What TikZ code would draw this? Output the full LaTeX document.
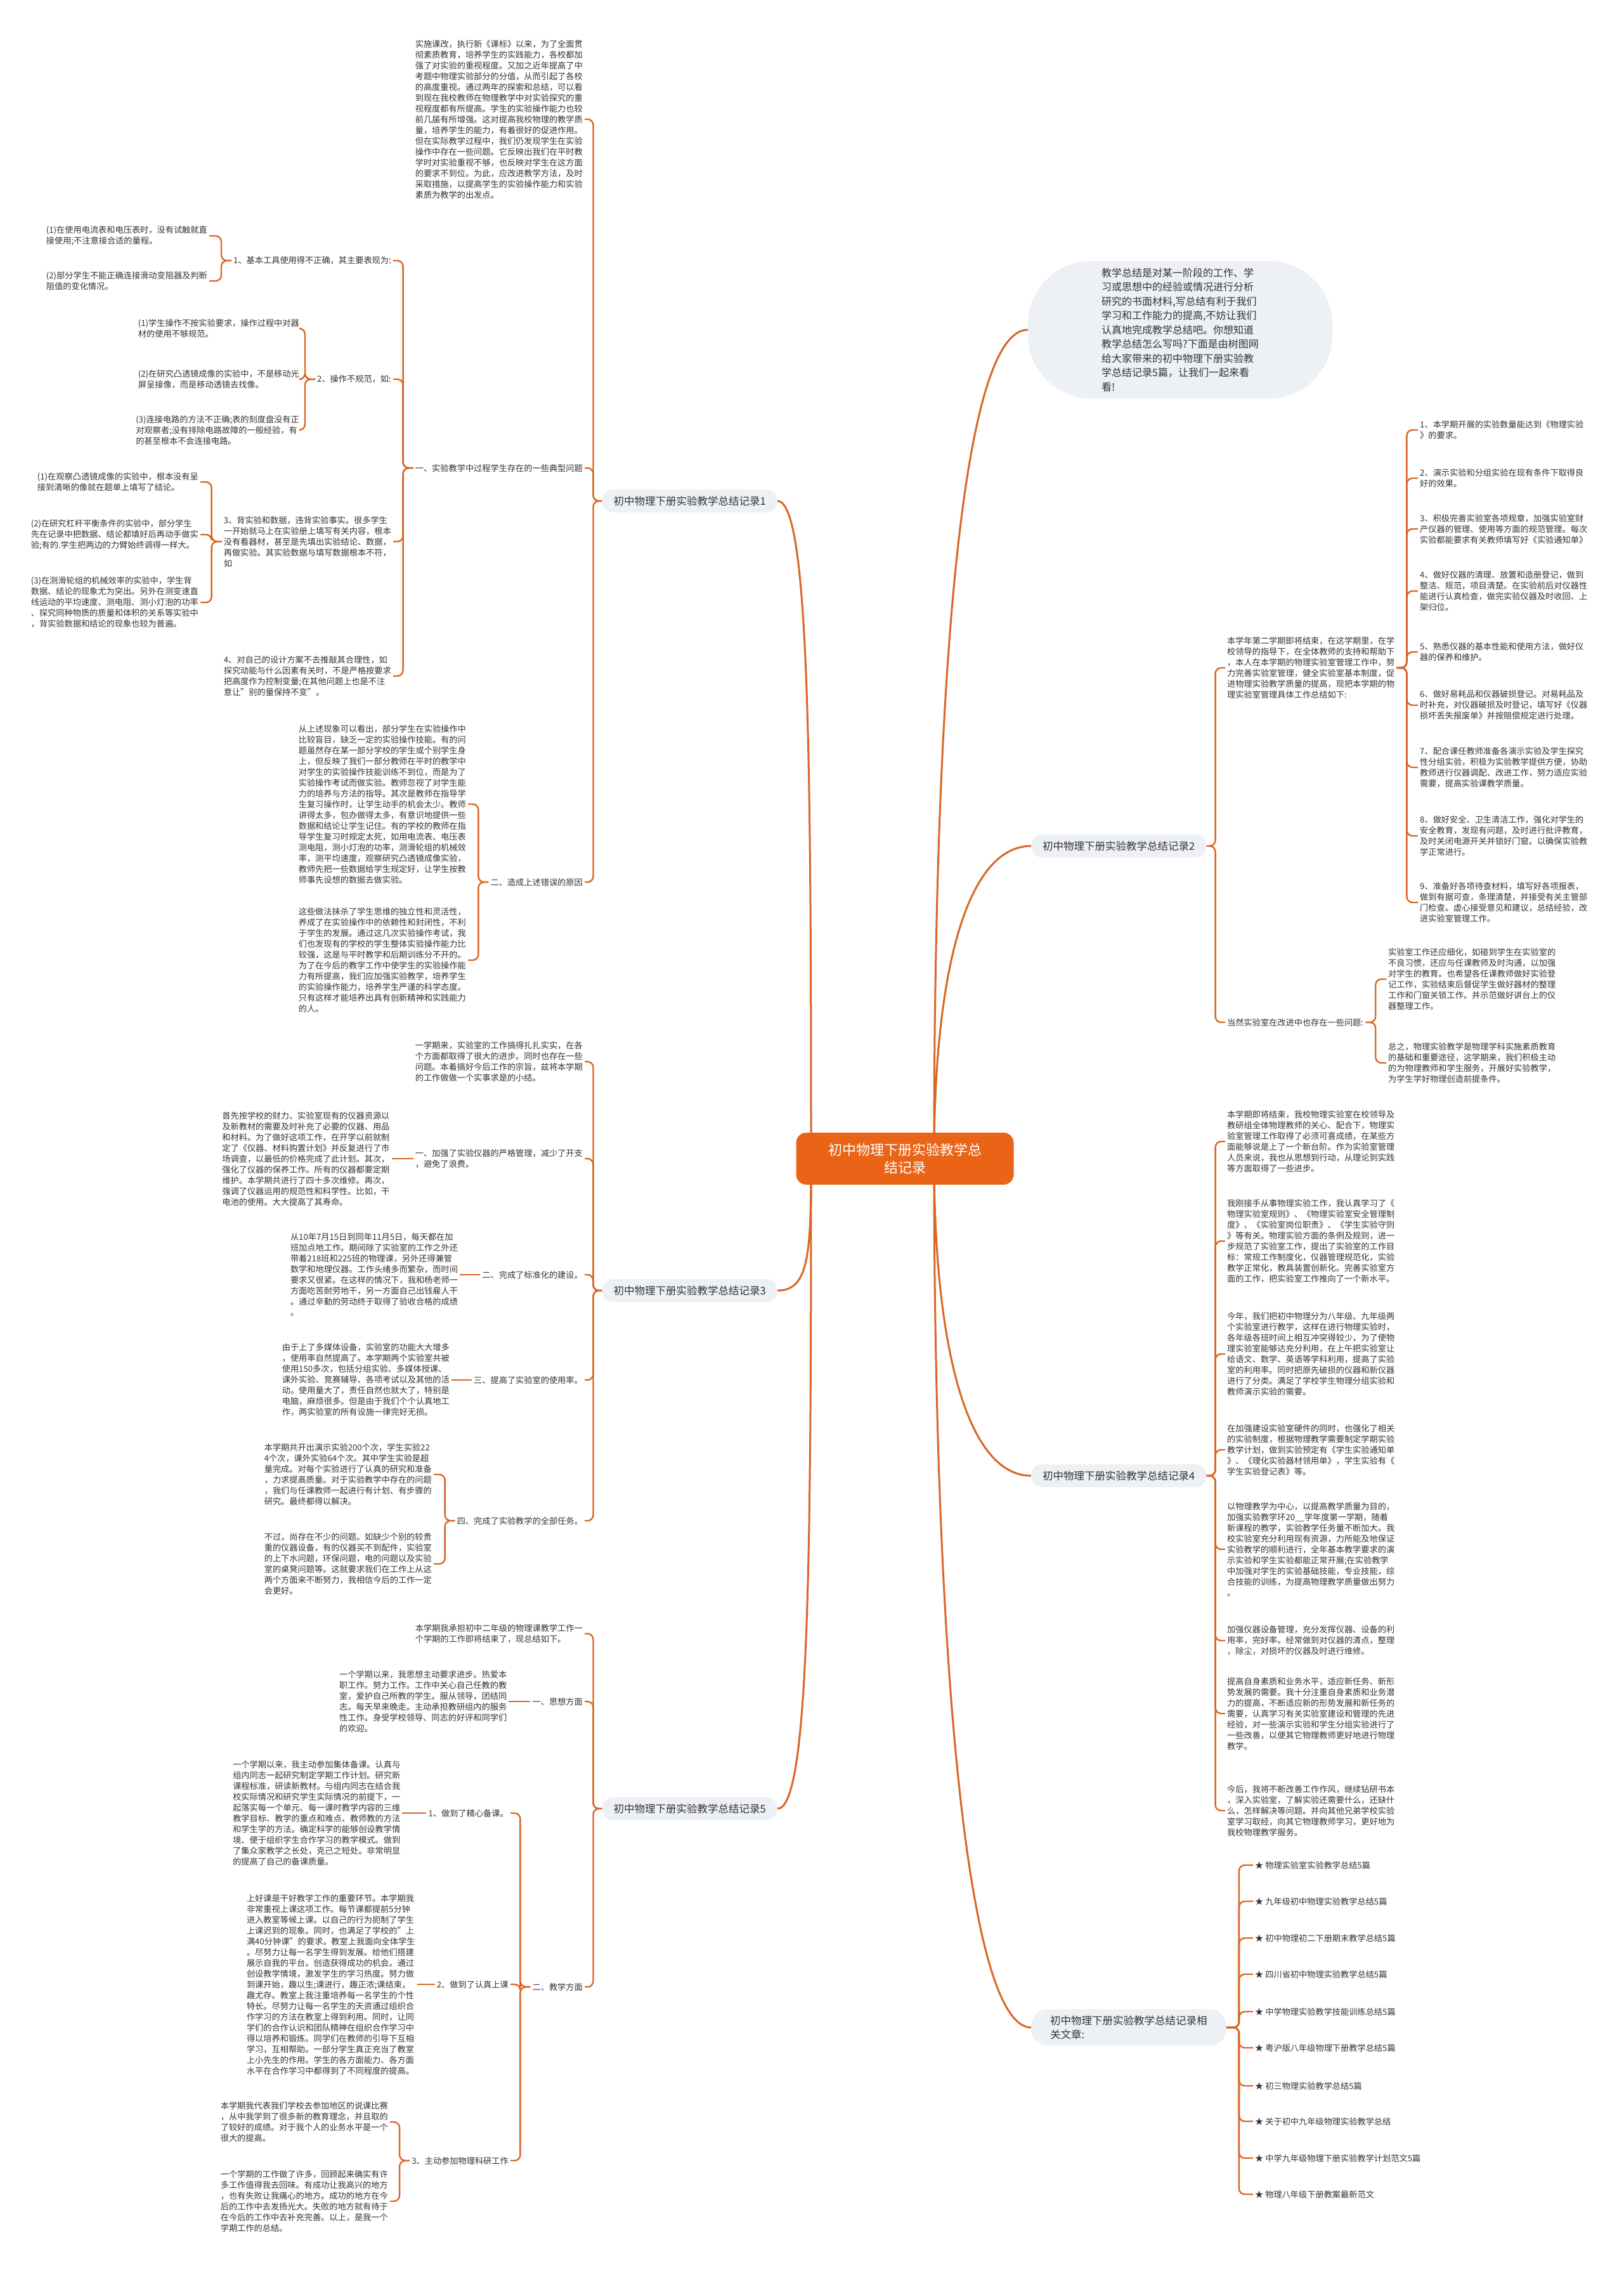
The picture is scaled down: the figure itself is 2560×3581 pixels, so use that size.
\documentclass[tikz,border=0pt]{standalone}
\usepackage{fontspec}
\setmainfont{Noto Sans CJK SC}
\usepackage{tikz}
\usetikzlibrary{positioning}
\definecolor{rootorange}{RGB}{233,100,22}
\definecolor{linkorange}{RGB}{218,102,36}
\definecolor{pillgrey}{RGB}{237,240,244}
\definecolor{txtgrey}{RGB}{51,51,51}
\pgfdeclarelayer{bg}
\pgfsetlayers{bg,main}

\begin{document}
\begin{tikzpicture}[
  x=1pt, y=-1pt,
  root/.style={rectangle, rounded corners=16pt, fill=rootorange, text=white,
               font=\fontsize{22}{28}\selectfont, align=center,
               minimum width=343pt, minimum height=82pt},
  pill/.style={rectangle, rounded corners=17pt, fill=pillgrey, text=txtgrey,
               font=\fontsize{16.5}{22}\selectfont, inner xsep=18pt, minimum height=36pt},
  lead/.style={rectangle, rounded corners=100pt, fill=pillgrey, text=txtgrey,
               font=\fontsize{16}{22.5}\selectfont, align=left,
               minimum width=480pt, minimum height=217pt},
  txt/.style={align=left, text=txtgrey, font=\fontsize{13.2}{17}\selectfont, inner sep=3pt},
  ltxt/.style={txt, anchor=east},
  rtxt/.style={txt, anchor=west},
  link/.style={draw=linkorange, line width=2.4pt, rounded corners=9pt},
  branch/.style={draw=linkorange, line width=3pt},
]
  \useasboundingbox (0,0) rectangle (2560,3581);

  % Root
  \node[root] (root) at (1427,1827) {初中物理下册实验教学总\\结记录};

  % Record 1
  \node[pill, anchor=east] (r1) at (1226,790) {初中物理下册实验教学总结记录1};
  \node[ltxt] (r1p) at (922,188) {实施课改，执行新《课标》以来，为了全面贯\\
彻素质教育，培养学生的实践能力，各校都加\\
强了对实验的重视程度。又加之近年提高了中\\
考题中物理实验部分的分值，从而引起了各校\\
的高度重视。通过两年的探索和总结，可以看\\
到现在我校教师在物理教学中对实验探究的重\\
视程度都有所提高。学生的实验操作能力也较\\
前几届有所增强。这对提高我校物理的教学质\\
量，培养学生的能力，有着很好的促进作用。\\
但在实际教学过程中，我们仍发现学生在实验\\
操作中存在一些问题。它反映出我们在平时教\\
学时对实验重视不够，也反映对学生在这方面\\
的要求不到位。为此，应改进教学方法，及时\\
采取措施，以提高学生的实验操作能力和实验\\
素质为教学的出发点。};
  \node[ltxt] (r1q1) at (922,738) {一、实验教学中过程学生存在的一些典型问题};
  \node[ltxt] (r1q1a) at (620,411) {1、基本工具使用得不正确，其主要表现为:};
  \node[ltxt] (r1q1a1) at (330,372) {(1)在使用电流表和电压表时，没有试触就直\\
接使用;不注意接合适的量程。};
  \node[ltxt] (r1q1a2) at (330,443) {(2)部分学生不能正确连接滑动变阻器及判断\\
阻值的变化情况。};
  \node[ltxt] (r1q1b) at (620,598) {2、操作不规范，如:};
  \node[ltxt] (r1q1b1) at (475,518) {(1)学生操作不按实验要求，操作过程中对器\\
材的使用不够规范。};
  \node[ltxt] (r1q1b2) at (475,598) {(2)在研究凸透镜成像的实验中，不是移动光\\
屏呈接像，而是移动透镜去找像。};
  \node[ltxt] (r1q1b3) at (475,678) {(3)连接电路的方法不正确;表的刻度盘没有正\\
对观察者;没有排除电路故障的一般经验，有\\
的甚至根本不会连接电路。};
  \node[ltxt] (r1q1c) at (620,854) {3、背实验和数据，违背实验事实。很多学生\\
一开始就马上在实验册上填写有关内容，根本\\
没有看器材，甚至是先填出实验结论、数据，\\
再做实验。其实验数据与填写数据根本不符，\\
如};
  \node[ltxt] (r1q1c1) at (316,760) {(1)在观察凸透镜成像的实验中，根本没有呈\\
接到清晰的像就在题单上填写了结论。};
  \node[ltxt] (r1q1c2) at (316,843) {(2)在研究杠杆平衡条件的实验中，部分学生\\
先在记录中把数据、结论都填好后再动手做实\\
验;有的.学生把两边的力臂始终调得一样大。};
  \node[ltxt] (r1q1c3) at (316,950) {(3)在测滑轮组的机械效率的实验中，学生背\\
数据、结论的现象尤为突出。另外在测变速直\\
线运动的平均速度、测电阻、测小灯泡的功率\\
、探究同种物质的质量和体积的关系等实验中\\
，背实验数据和结论的现象也较为普遍。};
  \node[ltxt] (r1q1d) at (620,1066) {4、对自己的设计方案不去推敲其合理性，如\\
探究动能与什么因素有关时，不是严格按要求\\
把高度作为控制变量;在其他问题上也是不注\\
意让"别的量保持不变"。};
  \node[ltxt] (r1q2) at (922,1391) {二、造成上述错误的原因};
  \node[ltxt] (r1q2a) at (738,1268) {从上述现象可以看出，部分学生在实验操作中\\
比较盲目，缺乏一定的实验操作技能。有的问\\
题虽然存在某一部分学校的学生或个别学生身\\
上，但反映了我们一部分教师在平时的教学中\\
对学生的实验操作技能训练不到位，而是为了\\
实验操作考试而做实验。教师忽视了对学生能\\
力的培养与方法的指导。其次是教师在指导学\\
生复习操作时，让学生动手的机会太少。教师\\
讲得太多，包办做得太多，有意识地提供一些\\
数据和结论让学生记住。有的学校的教师在指\\
导学生复习时规定太死，如用电流表、电压表\\
测电阻，测小灯泡的功率，测滑轮组的机械效\\
率，测平均速度，观察研究凸透镜成像实验，\\
教师先把一些数据给学生规定好，让学生按教\\
师事先设想的数据去做实验。};
  \node[ltxt] (r1q2b) at (738,1514) {这些做法抹杀了学生思维的独立性和灵活性，\\
养成了在实验操作中的依赖性和封闭性，不利\\
于学生的发展。通过这几次实验操作考试，我\\
们也发现有的学校的学生整体实验操作能力比\\
较强，这是与平时教学和后期训练分不开的。\\
为了在今后的教学工作中使学生的实验操作能\\
力有所提高，我们应加强实验教学，培养学生\\
的实验操作能力，培养学生严谨的科学态度。\\
只有这样才能培养出具有创新精神和实践能力\\
的人。};

  % Record 3
  \node[pill, anchor=east] (r3) at (1226,2035) {初中物理下册实验教学总结记录3};
  \node[ltxt] (r3p) at (922,1674) {一学期来，实验室的工作搞得扎扎实实，在各\\
个方面都取得了很大的进步。同时也存在一些\\
问题。本着搞好今后工作的宗旨，兹将本学期\\
的工作做做一个实事求是的小结。};
  \node[ltxt] (r3q1) at (922,1827) {一、加强了实验仪器的严格管理，减少了开支\\
，避免了浪费。};
  \node[ltxt, left=34pt of r3q1] (r3q1a) {首先按学校的财力、实验室现有的仪器资源以\\
及新教材的需要及时补充了必要的仪器、用品\\
和材料。为了做好这项工作，在开学以前就制\\
定了《仪器、材料购置计划》并反复进行了市\\
场调查，以最低的价格完成了此计划。其次，\\
强化了仪器的保养工作。所有的仪器都要定期\\
维护。本学期共进行了四十多次维修。再次，\\
强调了仪器运用的规范性和科学性。比如，干\\
电池的使用。大大提高了其寿命。};
  \node[ltxt] (r3q2) at (922,2010) {二、完成了标准化的建设。};
  \node[ltxt, left=32pt of r3q2] (r3q2a) {从10年7月15日到同年11月5日，每天都在加\\
班加点地工作。期间除了实验室的工作之外还\\
带着218班和225班的物理课，另外还得兼管\\
数学和地理仪器。工作头绪多而繁杂，而时间\\
要求又很紧。在这样的情况下，我和杨老师一\\
方面吃苦耐劳地干，另一方面自己出钱雇人干\\
。通过辛勤的劳动终于取得了验收合格的成绩\\
。};
  \node[ltxt] (r3q3) at (922,2176) {三、提高了实验室的使用率。};
  \node[ltxt, left=32pt of r3q3] (r3q3a) {由于上了多媒体设备，实验室的功能大大增多\\
，使用率自然提高了。本学期两个实验室共被\\
使用150多次，包括分组实验、多媒体授课、\\
课外实验、竞赛辅导、各项考试以及其他的活\\
动。使用量大了，责任自然也就大了，特别是\\
电脑，麻烦很多。但是由于我们个个认真地工\\
作，两实验室的所有设施一律完好无损。};
  \node[ltxt] (r3q4) at (922,2398) {四、完成了实验教学的全部任务。};
  \node[ltxt] (r3q4a) at (684,2325) {本学期共开出演示实验200个次，学生实验22\\
4个次，课外实验64个次。其中学生实验是超\\
量完成。对每个实验进行了认真的研究和准备\\
，力求提高质量。对于实验教学中存在的问题\\
，我们与任课教师一起进行有计划、有步骤的\\
研究。最终都得以解决。};
  \node[ltxt] (r3q4b) at (684,2466) {不过，尚存在不少的问题。如缺少个别的较贵\\
重的仪器设备，有的仪器买不到配件，实验室\\
的上下水问题，环保问题，电的问题以及实验\\
室的桌凳问题等。这就要求我们在工作上从这\\
两个方面来不断努力，我相信今后的工作一定\\
会更好。};

  % Record 5
  \node[pill, anchor=east] (r5) at (1226,2852) {初中物理下册实验教学总结记录5};
  \node[ltxt] (r5p) at (922,2576) {本学期我承担初中二年级的物理课教学工作一\\
个学期的工作即将结束了，现总结如下。};
  \node[ltxt] (r5q1) at (922,2683) {一、思想方面};
  \node[ltxt, left=34pt of r5q1] (r5q1a) {一个学期以来，我思想主动要求进步。热爱本\\
职工作。努力工作。工作中关心自己任教的教\\
室，爱护自己所教的学生。服从领导，团结同\\
志。每天早来晚走。主动承担教研组内的服务\\
性工作。身受学校领导、同志的好评和同学们\\
的欢迎。};
  \node[ltxt] (r5q2) at (922,3133) {二、教学方面};
  \node[ltxt] (r5q2a) at (805,2859) {1、做到了精心备课。};
  \node[ltxt, left=38pt of r5q2a] (r5q2a1) {一个学期以来，我主动参加集体备课。认真与\\
组内同志一起研究制定学期工作计划。研究新\\
课程标准，研读新教材。与组内同志在结合我\\
校实际情况和研究学生实际情况的前提下，一\\
起落实每一个单元、每一课时教学内容的三维\\
教学目标、教学的重点和难点、教师教的方法\\
和学生学的方法。确定科学的能够创设教学情\\
境、便于组织学生合作学习的教学模式。做到\\
了集众家教学之长处，克己之短处。非常明显\\
的提高了自己的备课质量。};
  \node[ltxt] (r5q2b) at (805,3129) {2、做到了认真上课};
  \node[ltxt, left=28pt of r5q2b] (r5q2b1) {上好课是干好教学工作的重要环节。本学期我\\
非常重视上课这项工作。每节课都提前5分钟\\
进入教室等候上课。以自己的行为扼制了学生\\
上课迟到的现象。同时，也满足了学校的"上\\
满40分钟课"的要求。教室上我面向全体学生\\
。尽努力让每一名学生得到发展。给他们搭建\\
展示自我的平台。创造获得成功的机会。通过\\
创设教学情境，激发学生的学习热度。努力做\\
到课开始，趣以生;课进行，趣正浓;课结束，\\
趣尤存。教室上我注重培养每一名学生的个性\\
特长。尽努力让每一名学生的天资通过组织合\\
作学习的方法在教室上得到利用。同时，让同\\
学们的合作认识和团队精神在组织合作学习中\\
得以培养和锻炼。同学们在教师的引导下互相\\
学习，互相帮助。一部分学生真正充当了教室\\
上小先生的作用。学生的各方面能力、各方面\\
水平在合作学习中都得到了不同程度的提高。};
  \node[ltxt] (r5q2c) at (805,3407) {3、主动参加物理科研工作};
  \node[ltxt] (r5q2c1) at (615,3346) {本学期我代表我们学校去参加地区的说课比赛\\
，从中我学到了很多新的教育理念，并且取的\\
了较好的成绩。对于我个人的业务水平是一个\\
很大的提高。};
  \node[ltxt] (r5q2c2) at (615,3471) {一个学期的工作做了许多，回顾起来确实有许\\
多工作值得我去回味。有成功让我高兴的地方\\
，也有失败让我痛心的地方。成功的地方在今\\
后的工作中去发扬光大。失败的地方就有待于\\
在今后的工作中去补充完善。以上，是我一个\\
学期工作的总结。};

  % Lead text
  \node[lead] (lead) at (1861,520) {教学总结是对某一阶段的工作、学\\
习或思想中的经验或情况进行分析\\
研究的书面材料,写总结有利于我们\\
学习和工作能力的提高,不妨让我们\\
认真地完成教学总结吧。你想知道\\
教学总结怎么写吗?下面是由树图网\\
给大家带来的初中物理下册实验教\\
学总结记录5篇，让我们一起来看\\
看!};

  % Record 2
  \node[pill, anchor=west] (r2) at (1626,1334) {初中物理下册实验教学总结记录2};
  \node[rtxt] (r2p) at (1932,1053) {本学年第二学期即将结束，在这学期里，在学\\
校领导的指导下，在全体教师的支持和帮助下\\
，本人在本学期的物理实验室管理工作中，努\\
力完善实验室管理，健全实验室基本制度，促\\
进物理实验教学质量的提高，现把本学期的物\\
理实验室管理具体工作总结如下:};
  \node[rtxt] (r2p1) at (2236,678) {1、本学期开展的实验数量能达到《物理实验\\
》的要求。};
  \node[rtxt] (r2p2) at (2236,754) {2、演示实验和分组实验在现有条件下取得良\\
好的效果。};
  \node[rtxt] (r2p3) at (2236,834) {3、积极完善实验室各项规章，加强实验室财\\
产仪器的管理、使用等方面的规范管理。每次\\
实验都能要求有关教师填写好《实验通知单》};
  \node[rtxt] (r2p4) at (2236,932) {4、做好仪器的清理、放置和造册登记，做到\\
整洁、规范，项目清楚。在实验前后对仪器性\\
能进行认真检查，做完实验仪器及时收回、上\\
架归位。};
  \node[rtxt] (r2p5) at (2236,1028) {5、熟悉仪器的基本性能和使用方法，做好仪\\
器的保养和维护。};
  \node[rtxt] (r2p6) at (2236,1112) {6、做好易耗品和仪器破损登记。对易耗品及\\
时补充，对仪器破损及时登记，填写好《仪器\\
损坏丢失报废单》并按赔偿规定进行处理。};
  \node[rtxt] (r2p7) at (2236,1210) {7、配合课任教师准备各演示实验及学生探究\\
性分组实验，积极为实验教学提供方便，协助\\
教师进行仪器调配、改进工作，努力适应实验\\
需要，提高实验课教学质量。};
  \node[rtxt] (r2p8) at (2236,1318) {8、做好安全、卫生清洁工作，强化对学生的\\
安全教育，发现有问题，及时进行批评教育，\\
及时关闭电源开关并锁好门窗。以确保实验教\\
学正常进行。};
  \node[rtxt] (r2p9) at (2236,1423) {9、准备好各项待查材料，填写好各项报表，\\
做到有据可查，条理清楚，并接受有关主管部\\
门检查。虚心接受意见和建议，总结经验，改\\
进实验室管理工作。};
  \node[rtxt] (r2q) at (1932,1612) {当然实验室在改进中也存在一些问题:};
  \node[rtxt] (r2q1) at (2186,1544) {实验室工作还应细化，如碰到学生在实验室的\\
不良习惯，还应与任课教师及时沟通，以加强\\
对学生的教育。也希望各任课教师做好实验登\\
记工作，实验结束后督促学生做好器材的整理\\
工作和门窗关锁工作。并示范做好讲台上的仪\\
器整理工作。};
  \node[rtxt] (r2q2) at (2186,1676) {总之，物理实验教学是物理学科实施素质教育\\
的基础和重要途径，这学期来，我们积极主动\\
的为物理教师和学生服务，开展好实验教学，\\
为学生学好物理创造前提条件。};

  % Record 4
  \node[pill, anchor=west] (r4) at (1626,2327) {初中物理下册实验教学总结记录4};
  \node[rtxt] (r4p1) at (1932,1800) {本学期即将结束，我校物理实验室在校领导及\\
教研组全体物理教师的关心、配合下，物理实\\
验室管理工作取得了必须可喜成绩，在某些方\\
面能够说是上了一个新台阶。作为实验室管理\\
人员来说，我也从思想到行动，从理论到实践\\
等方面取得了一些进步。};
  \node[rtxt] (r4p2) at (1932,1957) {我刚接手从事物理实验工作，我认真学习了《\\
物理实验室规则》、《物理实验室安全管理制\\
度》、《实验室岗位职责》、《学生实验守则\\
》等有关。物理实验方面的条例及规则，进一\\
步规范了实验室工作，提出了实验室的工作目\\
标：常规工作制度化，仪器管理规范化，实验\\
教学正常化，教具装置创新化。完善实验室方\\
面的工作，把实验室工作推向了一个新水平。};
  \node[rtxt] (r4p3) at (1932,2135) {今年，我们把初中物理分为八年级、九年级两\\
个实验室进行教学，这样在进行物理实验时，\\
各年级各班时间上相互冲突得较少，为了使物\\
理实验室能够达充分利用，在上午把实验室让\\
给语文、数学、英语等学科利用，提高了实验\\
室的利用率。同时把原先破损的仪器和新仪器\\
进行了分类。满足了学校学生物理分组实验和\\
教师演示实验的需要。};
  \node[rtxt] (r4p4) at (1932,2286) {在加强建设实验室硬件的同时，也强化了相关\\
的实验制度，根据物理教学需要制定学期实验\\
教学计划，做到实验预定有《学生实验通知单\\
》、《理化实验器材领用单》，学生实验有《\\
学生实验登记表》等。};
  \node[rtxt] (r4p5) at (1932,2443) {以物理教学为中心，以提高教学质量为目的，\\
加强实验教学环20\_\_学年度第一学期，随着\\
新课程的教学，实验教学任务量不断加大。我\\
校实验室充分利用现有资源，力所能及地保证\\
实验教学的顺利进行，全年基本教学要求的演\\
示实验和学生实验都能正常开展;在实验教学\\
中加强对学生的实验基础技能，专业技能，综\\
合技能的训练，为提高物理教学质量做出努力\\
。};
  \node[rtxt] (r4p6) at (1932,2587) {加强仪器设备管理，充分发挥仪器、设备的利\\
用率，完好率。经常做到对仪器的清点，整理\\
，除尘，对损坏的仪器及时进行维修。};
  \node[rtxt] (r4p7) at (1932,2702) {提高自身素质和业务水平，适应新任务、新形\\
势发展的需要。我十分注重自身素质和业务潜\\
力的提高，不断适应新的形势发展和新任务的\\
需要，认真学习有关实验室建设和管理的先进\\
经验，对一些演示实验和学生分组实验进行了\\
一些改善，以便其它物理教师更好地进行物理\\
教学。};
  \node[rtxt] (r4p8) at (1932,2855) {今后，我将不断改善工作作风，继续钻研书本\\
，深入实验室，了解实验还需要什么，还缺什\\
么，怎样解决等问题。并向其他兄弟学校实验\\
室学习取经，向其它物理教师学习，更好地为\\
我校物理教学服务。};

  % Related articles
  \node[pill, anchor=west, align=left, inner xsep=30pt, inner ysep=10pt,
        rounded corners=26pt] (rel) at (1626,3197) {初中物理下册实验教学总结记录相\\关文章:};
  \node[rtxt] (rel1) at (1976,2941) {★ 物理实验室实验教学总结5篇};
  \node[rtxt] (rel2) at (1976,2998) {★ 九年级初中物理实验教学总结5篇};
  \node[rtxt] (rel3) at (1976,3056) {★ 初中物理初二下册期末教学总结5篇};
  \node[rtxt] (rel4) at (1976,3113) {★ 四川省初中物理实验教学总结5篇};
  \node[rtxt] (rel5) at (1976,3172) {★ 中学物理实验教学技能训练总结5篇};
  \node[rtxt] (rel6) at (1976,3229) {★ 粤沪版八年级物理下册教学总结5篇};
  \node[rtxt] (rel7) at (1976,3289) {★ 初三物理实验教学总结5篇};
  \node[rtxt] (rel8) at (1976,3345) {★ 关于初中九年级物理实验教学总结};
  \node[rtxt] (rel9) at (1976,3403) {★ 中学九年级物理下册实验教学计划范文5篇};
  \node[rtxt] (rel10) at (1976,3460) {★ 物理八年级下册教案最新范文};

  \begin{pgfonlayer}{bg}
    \fill[white] (0,0) rectangle (2560,3581);
    % Branches from root
    \draw[branch] ([xshift=-148pt]root.center) .. controls +(0,-640) and +(50,0) .. (r1.east);
    \draw[branch] ([xshift=-148pt]root.center) .. controls +(0,150) and +(50,0) .. (r3.east);
    \draw[branch] ([xshift=-148pt]root.center) .. controls +(0,640) and +(50,0) .. (r5.east);
    \draw[branch] ([xshift=46pt]root.center) .. controls +(0,-800) and +(-100,0) .. (lead.west);
    \draw[branch] ([xshift=46pt]root.center) .. controls +(0,-300) and +(-100,0) .. (r2.west);
    \draw[branch] ([xshift=46pt]root.center) .. controls +(0,300) and +(-100,0) .. (r4.west);
    \draw[branch] ([xshift=46pt]root.center) .. controls +(0,800) and +(-100,0) .. (rel.west);

    % Record 1 links
    \draw[link] (r1.west) -- ++(-14,0) |- (r1p.east);
    \draw[link] (r1.west) -- ++(-14,0) |- (r1q1.east);
    \draw[link] (r1.west) -- ++(-14,0) |- (r1q2.east);
    \draw[link] (r1q1.west) -- ++(-16,0) |- (r1q1a.east);
    \draw[link] (r1q1.west) -- ++(-16,0) |- (r1q1b.east);
    \draw[link] (r1q1.west) -- ++(-16,0) |- (r1q1c.east);
    \draw[link] (r1q1.west) -- ++(-16,0) |- (r1q1d.east);
    \draw[link] (r1q1a.west) -- ++(-16,0) |- (r1q1a1.east);
    \draw[link] (r1q1a.west) -- ++(-16,0) |- (r1q1a2.east);
    \draw[link] (r1q1b.west) -- ++(-16,0) |- (r1q1b1.east);
    \draw[link] (r1q1b.west) -- ++(-16,0) |- (r1q1b2.east);
    \draw[link] (r1q1b.west) -- ++(-16,0) |- (r1q1b3.east);
    \draw[link] (r1q1c.west) -- ++(-16,0) |- (r1q1c1.east);
    \draw[link] (r1q1c.west) -- ++(-16,0) |- (r1q1c2.east);
    \draw[link] (r1q1c.west) -- ++(-16,0) |- (r1q1c3.east);
    \draw[link] (r1q2.west) -- ++(-16,0) |- (r1q2a.east);
    \draw[link] (r1q2.west) -- ++(-16,0) |- (r1q2b.east);

    % Record 3 links
    \draw[link] (r3.west) -- ++(-14,0) |- (r3p.east);
    \draw[link] (r3.west) -- ++(-14,0) |- (r3q1.east);
    \draw[link] (r3.west) -- ++(-14,0) |- (r3q2.east);
    \draw[link] (r3.west) -- ++(-14,0) |- (r3q3.east);
    \draw[link] (r3.west) -- ++(-14,0) |- (r3q4.east);
    \draw[link] (r3q1.west) -- (r3q1a.east);
    \draw[link] (r3q2.west) -- (r3q2a.east);
    \draw[link] (r3q3.west) -- (r3q3a.east);
    \draw[link] (r3q4.west) -- ++(-16,0) |- (r3q4a.east);
    \draw[link] (r3q4.west) -- ++(-16,0) |- (r3q4b.east);

    % Record 5 links
    \draw[link] (r5.west) -- ++(-14,0) |- (r5p.east);
    \draw[link] (r5.west) -- ++(-14,0) |- (r5q1.east);
    \draw[link] (r5.west) -- ++(-14,0) |- (r5q2.east);
    \draw[link] (r5q1.west) -- (r5q1a.east);
    \draw[link] (r5q2.west) -- ++(-16,0) |- (r5q2a.east);
    \draw[link] (r5q2.west) -- ++(-16,0) |- (r5q2b.east);
    \draw[link] (r5q2.west) -- ++(-16,0) |- (r5q2c.east);
    \draw[link] (r5q2a.west) -- (r5q2a1.east);
    \draw[link] (r5q2b.west) -- (r5q2b1.east);
    \draw[link] (r5q2c.west) -- ++(-16,0) |- (r5q2c1.east);
    \draw[link] (r5q2c.west) -- ++(-16,0) |- (r5q2c2.east);

    % Record 2 links
    \draw[link] (r2.east) -- ++(14,0) |- (r2p.west);
    \draw[link] (r2.east) -- ++(14,0) |- (r2q.west);
    \draw[link] (r2p.east) -- ++(16,0) |- (r2p1.west);
    \draw[link] (r2p.east) -- ++(16,0) |- (r2p2.west);
    \draw[link] (r2p.east) -- ++(16,0) |- (r2p3.west);
    \draw[link] (r2p.east) -- ++(16,0) |- (r2p4.west);
    \draw[link] (r2p.east) -- ++(16,0) |- (r2p5.west);
    \draw[link] (r2p.east) -- ++(16,0) |- (r2p6.west);
    \draw[link] (r2p.east) -- ++(16,0) |- (r2p7.west);
    \draw[link] (r2p.east) -- ++(16,0) |- (r2p8.west);
    \draw[link] (r2p.east) -- ++(16,0) |- (r2p9.west);
    \draw[link] (r2q.east) -- ++(16,0) |- (r2q1.west);
    \draw[link] (r2q.east) -- ++(16,0) |- (r2q2.west);

    % Record 4 links
    \draw[link] (r4.east) -- ++(14,0) |- (r4p1.west);
    \draw[link] (r4.east) -- ++(14,0) |- (r4p2.west);
    \draw[link] (r4.east) -- ++(14,0) |- (r4p3.west);
    \draw[link] (r4.east) -- ++(14,0) |- (r4p4.west);
    \draw[link] (r4.east) -- ++(14,0) |- (r4p5.west);
    \draw[link] (r4.east) -- ++(14,0) |- (r4p6.west);
    \draw[link] (r4.east) -- ++(14,0) |- (r4p7.west);
    \draw[link] (r4.east) -- ++(14,0) |- (r4p8.west);

    % Related links
    \draw[link] (rel.east) -- ++(20,0) |- (rel1.west);
    \draw[link] (rel.east) -- ++(20,0) |- (rel2.west);
    \draw[link] (rel.east) -- ++(20,0) |- (rel3.west);
    \draw[link] (rel.east) -- ++(20,0) |- (rel4.west);
    \draw[link] (rel.east) -- ++(20,0) |- (rel5.west);
    \draw[link] (rel.east) -- ++(20,0) |- (rel6.west);
    \draw[link] (rel.east) -- ++(20,0) |- (rel7.west);
    \draw[link] (rel.east) -- ++(20,0) |- (rel8.west);
    \draw[link] (rel.east) -- ++(20,0) |- (rel9.west);
    \draw[link] (rel.east) -- ++(20,0) |- (rel10.west);
  \end{pgfonlayer}
\end{tikzpicture}
\end{document}
